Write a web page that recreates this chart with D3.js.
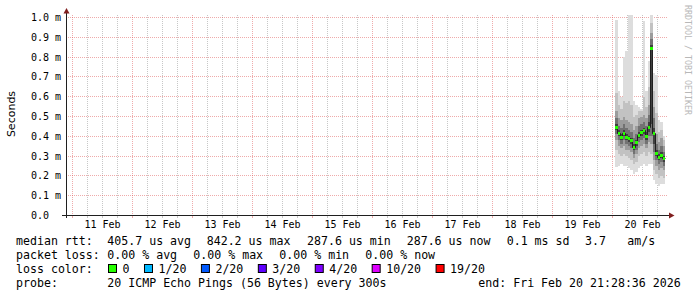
<!DOCTYPE html>
<html>
<head>
<meta charset="utf-8">
<script src="https://cdn.jsdelivr.net/npm/d3@7"></script>
<style>
html, body { margin: 0; padding: 0; background: #fff; }
svg { display: block; }
text { font-family: "DejaVu Sans Mono", monospace; fill: #000; }
</style>
</head>
<body>
<div id="chart-container"></div>
<script>
// hourly steps on Feb 20 (UTC hour at which each step starts)
const stepHours = [1, 2, 3, 4, 5, 6, 7, 8, 9, 10, 11, 12, 13, 14, 15, 16, 17, 18, 19, 20];

// median rtt per step, in ms
const median = [0.446, 0.414, 0.394, 0.416, 0.394, 0.387, 0.380, 0.343, 0.367, 0.406,
                0.418, 0.428, 0.399, 0.446, 0.842, 0.413, 0.315, 0.293, 0.305, 0.2876];

// sorted ping spread per step (ms), outer -> inner
const p00  = [0.245, 0.25, 0.26, 0.25, 0.25, 0.24, 0.23, 0.21, 0.22, 0.24, 0.25, 0.26, 0.25, 0.26, 0.26, 0.18, 0.16, 0.15, 0.16, 0.16];
const p10  = [0.33, 0.31, 0.30, 0.31, 0.30, 0.29, 0.28, 0.26, 0.27, 0.30, 0.31, 0.32, 0.30, 0.32, 0.31, 0.23, 0.21, 0.19, 0.20, 0.19];
const p25  = [0.38, 0.35, 0.34, 0.35, 0.33, 0.33, 0.32, 0.29, 0.31, 0.34, 0.35, 0.36, 0.34, 0.37, 0.36, 0.28, 0.25, 0.23, 0.24, 0.23];
const p35  = [0.41, 0.38, 0.36, 0.38, 0.36, 0.35, 0.34, 0.31, 0.33, 0.37, 0.38, 0.39, 0.36, 0.40, 0.40, 0.32, 0.28, 0.26, 0.27, 0.25];
const p45  = [0.43, 0.40, 0.38, 0.40, 0.38, 0.37, 0.36, 0.33, 0.35, 0.39, 0.40, 0.41, 0.38, 0.42, 0.46, 0.36, 0.30, 0.28, 0.29, 0.27];
const p55  = [0.46, 0.43, 0.41, 0.43, 0.41, 0.40, 0.39, 0.36, 0.38, 0.42, 0.43, 0.44, 0.42, 0.47, 0.86, 0.44, 0.33, 0.31, 0.32, 0.30];
const p65  = [0.49, 0.45, 0.44, 0.46, 0.44, 0.43, 0.42, 0.39, 0.41, 0.45, 0.46, 0.47, 0.45, 0.51, 0.89, 0.49, 0.36, 0.33, 0.35, 0.32];
const p75  = [0.53, 0.49, 0.48, 0.50, 0.48, 0.47, 0.46, 0.43, 0.45, 0.49, 0.50, 0.51, 0.49, 0.56, 0.92, 0.55, 0.41, 0.37, 0.39, 0.35];
const p90  = [0.62, 0.56, 0.54, 0.58, 0.57, 0.58, 0.56, 0.50, 0.51, 0.53, 0.53, 0.60, 0.55, 0.65, 0.97, 0.63, 0.52, 0.42, 0.43, 0.38];
const p100 = [0.985, 0.63, 0.60, 0.80, 0.83, 1.05, 1.05, 0.58, 0.56, 0.55, 0.54, 0.98, 0.63, 0.78, 1.05, 0.72, 0.71, 0.48, 0.47, 0.40];

const yTicks = [0, 0.1, 0.2, 0.3, 0.4, 0.5, 0.6, 0.7, 0.8, 0.9, 1.0];

const lossLabels = ["0", "1/20", "2/20", "3/20", "4/20", "10/20", "19/20"];
const lossColors = ["#26ff00", "#00b8ff", "#0059ff", "#5e00ff", "#7e00ff", "#dd00ff", "#ff0000"];

const rttStats = ["405.7 us avg", "842.2 us max", "287.6 us min", "287.6 us now", "0.1 ms sd", "3.7", "am/s"];
const lossStats = ["0.00 % avg", "0.00 % max", "0.00 % min", "0.00 % now"];
const probeText = "20 ICMP Echo Pings (56 Bytes) every 300s";
const endText = "end: Fri Feb 20 21:28:36 2026";

const W = 697, H = 297;
const gridCol = "rgba(143,143,143,0.5)";
const mgridCol = "rgba(222,80,80,0.48)";
const axisCol = "#1f1f1f";
const arrowCol = "#801f1f";

const svg = d3.select("#chart-container").append("svg")
    .attr("width", W).attr("height", H);

const tStart = new Date(Date.UTC(2026, 1, 10, 21, 28, 36));
const tEnd = new Date(Date.UTC(2026, 1, 20, 21, 28, 36));
const x = d3.scaleUtc().domain([tStart, tEnd]).range([66.2, 666.2]);
const y = d3.scaleLinear().domain([0, 1]).range([215.5, 17.5]);
const px = v => Math.floor(v) + 0.5;

const stepStart = stepHours.map(h => new Date(Date.UTC(2026, 1, 20, h)));
const stepEnd = stepHours.map(h => new Date(Date.UTC(2026, 1, 20, h + 1)));

// grid
const sixHours = d3.utcHour.every(6).range(tStart, tEnd);
const days = d3.utcDay.range(tStart, tEnd);
const minorT = sixHours.filter(d => d.getUTCHours() !== 0);

svg.append("g").selectAll("line").data(minorT).join("line")
    .attr("x1", d => px(x(d))).attr("x2", d => px(x(d)))
    .attr("y1", 15).attr("y2", 215)
    .attr("stroke", gridCol).attr("stroke-dasharray", "1,1");

svg.append("g").selectAll("line").data(days).join("line")
    .attr("x1", d => px(x(d))).attr("x2", d => px(x(d)))
    .attr("y1", 15).attr("y2", 215)
    .attr("stroke", mgridCol).attr("stroke-dasharray", "1,1");

svg.append("g").selectAll("line").data(yTicks.slice(1)).join("line")
    .attr("x1", 66).attr("x2", 667)
    .attr("y1", d => px(y(d))).attr("y2", d => px(y(d)))
    .attr("stroke", mgridCol).attr("stroke-dasharray", "1,1");

// smoke
svg.append("clipPath").attr("id", "plot")
    .append("rect").attr("x", 66).attr("y", 15).attr("width", 601).attr("height", 201);

const bands = [
    [p00, p100, "#dddddd"],
    [p10, p90, "#c2c2c2"],
    [p25, p75, "#9c9c9c"],
    [p35, p65, "#727272"],
    [p45, p55, "#404040"]
];

const plot = svg.append("g").attr("clip-path", "url(#plot)");

bands.forEach(([lo, hi, col]) => {
    plot.append("g").selectAll("rect").data(stepHours).join("rect")
        .attr("x", (d, i) => x(stepStart[i]))
        .attr("width", (d, i) => x(stepEnd[i]) - x(stepStart[i]))
        .attr("y", (d, i) => y(hi[i]))
        .attr("height", (d, i) => y(lo[i]) - y(hi[i]))
        .attr("fill", col)
        .attr("shape-rendering", "crispEdges");
});

// median line
const medPts = stepHours.map((h, i) => [stepStart[i], median[i]]);
medPts.push([stepEnd[stepEnd.length - 1], median[median.length - 1]]);

plot.append("path")
    .datum(medPts)
    .attr("d", d3.line().x(d => px(x(d[0]))).y(d => px(y(d[1]))).curve(d3.curveStepAfter))
    .attr("fill", "none")
    .attr("stroke", "#202020")
    .attr("stroke-width", 1);

// loss-coloured median boxes (all 0 loss)
plot.append("g").selectAll("rect").data(median).join("rect")
    .attr("x", (d, i) => x(stepStart[i]))
    .attr("width", (d, i) => x(stepEnd[i]) - x(stepStart[i]))
    .attr("y", d => y(d) - 1.5)
    .attr("height", 3)
    .attr("fill", lossColors[0])
    .attr("shape-rendering", "crispEdges");

// axes
svg.append("line").attr("x1", 66.5).attr("x2", 66.5).attr("y1", 218).attr("y2", 11)
    .attr("stroke", axisCol);
svg.append("line").attr("x1", 62).attr("x2", 671).attr("y1", 215.5).attr("y2", 215.5)
    .attr("stroke", axisCol);
svg.append("path").attr("d", "M63.5,13.5L69.5,13.5L66.5,8Z").attr("fill", arrowCol);
svg.append("path").attr("d", "M669,212.5L669,218.5L674.5,215.5Z").attr("fill", arrowCol);

svg.append("g").selectAll("line").data(sixHours).join("line")
    .attr("x1", d => px(x(d))).attr("x2", d => px(x(d)))
    .attr("y1", 216).attr("y2", 218)
    .attr("stroke", d => d.getUTCHours() === 0 ? mgridCol : gridCol);

// y tick labels
svg.append("g").selectAll("text").data(yTicks).join("text")
    .attr("x", 31)
    .attr("y", d => y(d) + 3.5)
    .attr("font-size", "10px")
    .text(d => d === 0 ? "0.0" : d3.format(".1f")(d) + " m");

// x tick labels at noon
svg.append("g").selectAll("text").data(days).join("text")
    .attr("x", d => x(d3.utcHour.offset(d, 12)))
    .attr("y", 228)
    .attr("text-anchor", "middle")
    .attr("font-size", "10px")
    .text(d => d3.utcFormat("%d %b")(d));

// y axis title
svg.append("text")
    .attr("transform", "translate(15,114) rotate(-90)")
    .attr("text-anchor", "middle")
    .style("font-family", "'DejaVu Sans', sans-serif")
    .attr("font-size", "11px")
    .text("Seconds");

// watermark
svg.append("text")
    .attr("transform", "translate(684.5,5) rotate(90)")
    .attr("font-size", "8.3px")
    .style("fill", "#b8b8b8")
    .text("RRDTOOL / TOBI OETIKER");

// legend
const leg = svg.append("g").attr("font-size", "11.6px");
const legText = (s, lx, ly) => leg.append("text").attr("x", lx).attr("y", ly).text(s);

legText("median rtt:", 16, 245);
[107.3, 206.7, 307, 406.7, 506.7, 585, 627.3].forEach((lx, i) => legText(rttStats[i], lx, 245));

legText("packet loss:", 16, 259);
[107.3, 193.3, 279.3, 365.3].forEach((lx, i) => legText(lossStats[i], lx, 259));

legText("loss color:", 16, 273);
let cx = 108.5;
lossLabels.forEach((lab, i) => {
    leg.append("rect")
        .attr("x", cx).attr("y", 264.5).attr("width", 8).attr("height", 8)
        .attr("fill", lossColors[i]).attr("stroke", "#000");
    const t = legText(lab, cx + 14, 273);
    cx = cx + 14 + t.node().getComputedTextLength() + 15;
});

legText("probe:", 16, 287);
legText(probeText, 107.3, 287);
legText(endText, 478.3, 287);
</script>
</body>
</html>
